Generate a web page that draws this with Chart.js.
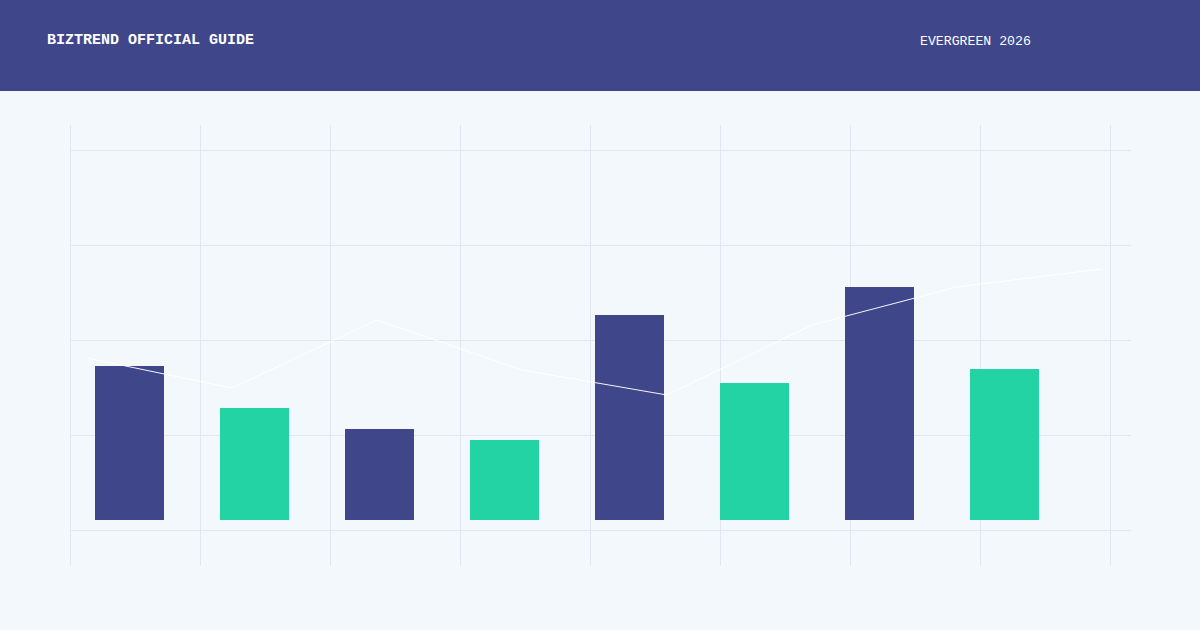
<!DOCTYPE html>
<html>
<head>
<meta charset="utf-8">
<script src="https://cdn.jsdelivr.net/npm/chart.js@4/dist/chart.umd.min.js"></script>
<style>
  html, body { margin: 0; padding: 0; }
  body { width: 1200px; height: 630px; background: #f3f8fc; position: relative; overflow: hidden; }
  .header { position: absolute; left: 0; top: 0; width: 1200px; height: 91px; background: #3f468a; }
  .title { position: absolute; left: 47px; top: 32px; color: #ffffff; font-family: "Liberation Mono", "DejaVu Sans Mono", monospace; font-weight: bold; font-size: 15px; }
  .tag { position: absolute; left: 920px; top: 34px; color: #ffffff; font-family: "Liberation Mono", "DejaVu Sans Mono", monospace; font-size: 13.2px; }
  .grid { position: absolute; left: 70px; top: 125px; width: 1061px; height: 441px;
    background-image:
      linear-gradient(to right, #e1e6f0 0px, #e1e6f0 1px, transparent 1px),
      linear-gradient(to bottom, #e1e6f0 0px, #e1e6f0 1px, transparent 1px);
    background-size: 130px 100%, 100% 95px;
    background-position: 0 0, 0 25px;
  }
  #c { position: absolute; left: 0; top: 0; }
</style>
</head>
<body>
<div class="header"></div>
<div class="title">BIZTREND OFFICIAL GUIDE</div>
<div class="tag">EVERGREEN 2026</div>
<div class="grid"></div>
<canvas id="c" width="1200" height="630"></canvas>
<script>
const categories = ["1", "2", "3", "4", "5", "6", "7", "8"];
const barValues = [38.5, 28, 22.75, 20, 51.25, 34.25, 58.25, 37.75];
const barColors = ["#3f468a", "#24d3a4", "#3f468a", "#24d3a4", "#3f468a", "#24d3a4", "#3f468a", "#24d3a4"];
const lineX = [0, 1, 2, 3, 4, 5, 6, 7];
const lineValues = [40.5, 33, 50, 37.5, 31.25, 48.75, 58.25, 62.75];

new Chart(document.getElementById('c'), {
  type: 'bar',
  data: {
    labels: categories,
    datasets: [
      {
        type: 'bar',
        data: barValues,
        xAxisID: 'x',
        yAxisID: 'y',
        backgroundColor: barColors,
        borderWidth: 0,
        grouped: false,
        categoryPercentage: 1,
        barPercentage: 0.552,
        order: 1
      },
      {
        type: 'line',
        data: lineX.map((x, i) => ({ x: x, y: lineValues[i] })),
        xAxisID: 'x2',
        yAxisID: 'y',
        borderColor: 'rgba(255,255,255,0.95)',
        borderWidth: 1,
        pointRadius: 0,
        tension: 0,
        fill: false,
        clip: false,
        order: 0
      }
    ]
  },
  options: {
    responsive: false,
    animation: false,
    devicePixelRatio: 1,
    layout: { padding: { left: 67, right: 133, top: 120, bottom: 110 } },
    plugins: { legend: { display: false }, tooltip: { enabled: false } },
    scales: {
      x: { type: 'category', display: false, offset: true },
      x2: { type: 'linear', display: false, offset: false, min: -0.138, max: 6.759, grid: { offset: false } },
      y: { type: 'linear', display: false, min: 0, max: 100 }
    }
  }
});
</script>
</body>
</html>
